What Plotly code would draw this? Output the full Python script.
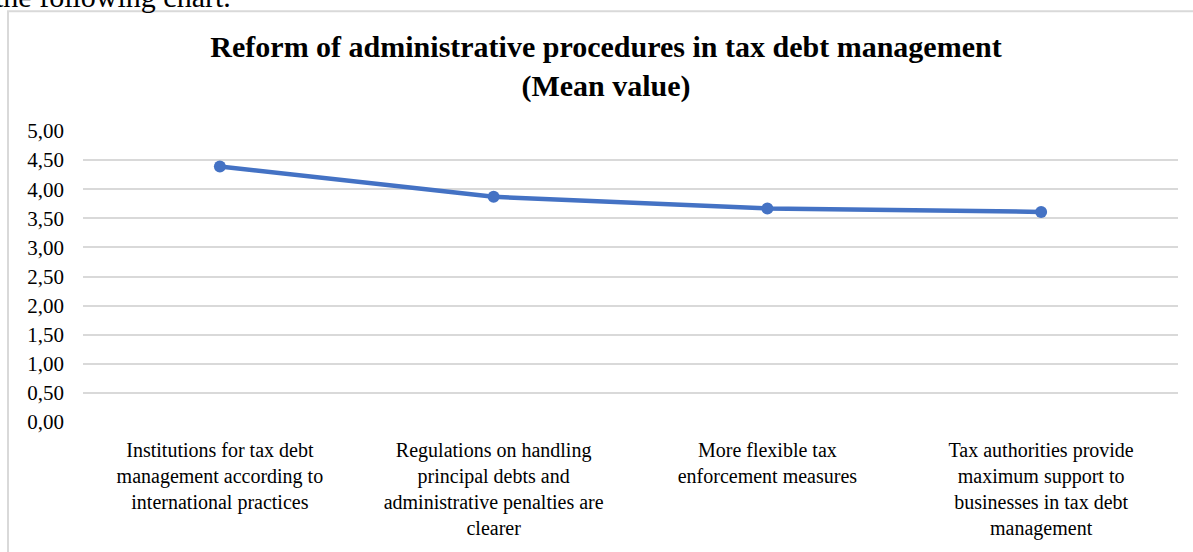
import plotly.graph_objects as go

categories = [
    "Institutions for tax debt<br>management according to<br>international practices",
    "Regulations on handling<br>principal debts and<br>administrative penalties are<br>clearer",
    "More flexible tax<br>enforcement measures",
    "Tax authorities provide<br>maximum support to<br>businesses in tax debt<br>management",
]
mean_values = [4.39, 3.87, 3.67, 3.61]
y_ticks = [0, 0.5, 1, 1.5, 2, 2.5, 3, 3.5, 4, 4.5, 5]

W, H = 1193, 552
L, R, T, B = 83, 15, 131, 127
pw = W - L - R
ph = H - T - B

def px_x(x):
    return (x - L) / pw

def px_y(y):
    return (H - B - y) / ph

SERIF = "Liberation Serif, Times New Roman, serif"

fig = go.Figure()
fig.add_trace(go.Scatter(
    x=list(range(len(categories))),
    y=mean_values,
    mode="lines+markers",
    line=dict(color="#4472C4", width=4.5),
    marker=dict(color="#4472C4", size=12),
    showlegend=False,
    hoverinfo="skip",
))

fig.update_layout(
    width=W, height=H,
    margin=dict(l=L, r=R, t=T, b=B),
    paper_bgcolor="white",
    plot_bgcolor="white",
    separators=",.",
    font=dict(family=SERIF, color="#000000"),
    title=dict(
        text="<b>Reform of administrative procedures in tax debt management<br>(Mean value)</b>",
        x=606 / W, xanchor="center",
        y=1 - 57 / H, yanchor="top", yref="container",
        font=dict(family=SERIF, size=30, color="#000000"),
    ),
    xaxis=dict(
        tickmode="array",
        tickvals=list(range(len(categories))),
        ticktext=categories,
        range=[-0.5, len(categories) - 0.5],
        showgrid=False,
        zeroline=False,
        showline=False,
        ticks="",
        tickangle=0,
        tickfont=dict(family=SERIF, size=20, color="#000000"),
        ticklabelstandoff=14,
    ),
    yaxis=dict(
        range=[0, 5],
        tickmode="array",
        tickvals=y_ticks,
        tickformat=".2f",
        showgrid=True,
        gridcolor="#d9d9d9",
        gridwidth=1.5,
        zeroline=False,
        showline=False,
        ticks="",
        tickfont=dict(family=SERIF, size=21, color="#000000"),
        ticklabelstandoff=18,
    ),
    shapes=[dict(
        type="rect", xref="paper", yref="paper",
        x0=px_x(8), x1=px_x(1200), y0=px_y(570), y1=px_y(10),
        line=dict(color="#d9d9d9", width=2),
        fillcolor="rgba(0,0,0,0)",
        layer="below",
    )],
    annotations=[dict(
        text="the following chart.",
        xref="paper", yref="paper",
        x=px_x(233), y=px_y(13.5),
        xanchor="right", yanchor="bottom",
        showarrow=False,
        font=dict(family=SERIF, size=30, color="#000000"),
    )],
)

fig.write_html(
    "out.html",
    config={"displayModeBar": False},
    post_script="document.body.style.margin='0';",
)
